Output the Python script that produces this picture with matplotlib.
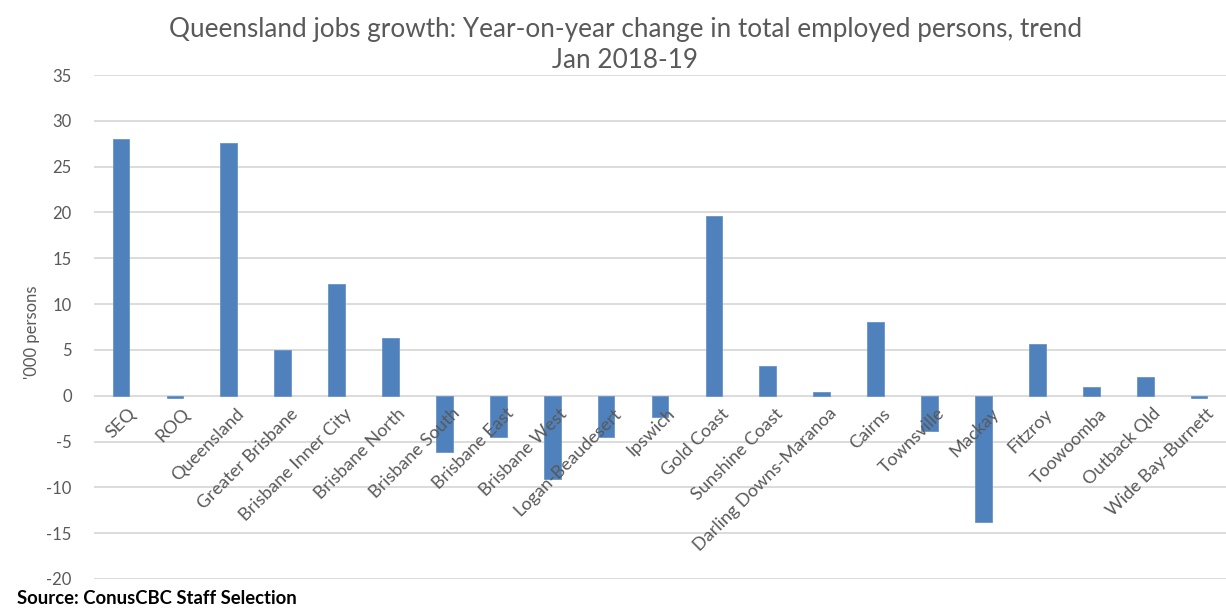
import matplotlib
matplotlib.use("Agg")
import matplotlib.pyplot as plt

categories = ["SEQ", "ROQ", "Queensland", "Greater Brisbane", "Brisbane Inner City",
              "Brisbane North", "Brisbane South", "Brisbane East", "Brisbane West",
              "Logan-Beaudesert", "Ipswich", "Gold Coast", "Sunshine Coast",
              "Darling Downs-Maranoa", "Cairns", "Townsville", "Mackay", "Fitzroy",
              "Toowoomba", "Outback Qld", "Wide Bay-Burnett"]
values = [28.0, -0.3, 27.6, 5.0, 12.2, 6.3, -6.1, -4.5, -9.1, -4.5, -2.3, 19.6,
          3.2, 0.4, 8.0, -3.8, -13.8, 5.6, 0.9, 2.0, -0.2]
yticks = [-20, -15, -10, -5, 0, 5, 10, 15, 20, 25, 30, 35]

plt.rcParams['font.family'] = ['Lato', 'DejaVu Sans']

fig = plt.figure(figsize=(12.26, 6.08), dpi=100)
ax = fig.add_axes([0.0767, 0.0477, 0.9233, 0.8289])

x = list(range(len(categories)))
ax.bar(x, values, width=0.31, color="#4F81BD", edgecolor="#6B93C8", linewidth=0.6, zorder=3)

ax.set_ylim(-20, 35)
ax.set_xlim(-0.5, len(categories) - 0.5)
ax.set_yticks(yticks)
ax.set_yticklabels([str(v) for v in yticks], color="#595959", fontsize=12)
ax.tick_params(axis='y', length=0, pad=16)
ax.set_xticks([])
ax.grid(axis='y', color="#D9D9D9", linewidth=1.3, zorder=0)
ax.set_axisbelow(True)
for s in ax.spines.values():
    s.set_visible(False)

for i, lab in enumerate(categories):
    ax.annotate(lab, (i, 0), xytext=(5, -7), textcoords='offset points',
                rotation=45, ha='right', va='top', rotation_mode='anchor',
                fontsize=13, color="#595959", zorder=4)

ax.set_ylabel("'000 persons", color="#595959", fontsize=12)
ax.yaxis.set_label_coords(-0.048, 0.49)

fig.text(0.51, 0.952, "Queensland jobs growth: Year-on-year change in total employed persons, trend",
         ha='center', va='center', fontsize=18.8, color="#595959")
fig.text(0.51, 0.900, "Jan 2018-19", ha='center', va='center', fontsize=18.8, color="#595959")
fig.text(0.014, 0.016, "Source: ConusCBC Staff Selection", ha='left', va='center',
         fontsize=13.3, fontweight='bold', color="#000000")

fig.savefig("out.png", dpi=100)
